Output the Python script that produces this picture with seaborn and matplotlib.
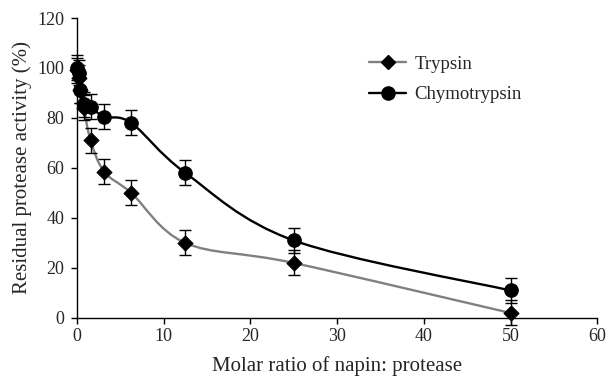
import matplotlib
matplotlib.use("Agg")
import matplotlib.pyplot as plt
import numpy as np
import pandas as pd
import seaborn as sns
from matplotlib.lines import Line2D
from matplotlib.patches import PathPatch
from matplotlib.path import Path

# molar ratio napin : protease
ratio = [0, 0.195, 0.39, 0.78, 1.56, 3.125, 6.25, 12.5, 25, 50]
trypsin = [99, 96, 91, 84, 71, 58.5, 50, 30, 22, 2]
chymotrypsin = [100, 98, 91, 85.5, 84.5, 80.5, 78, 58, 31, 11]
trypsin_err = [5, 5, 5, 5, 5, 5, 5, 5, 5, 5]
chymo_err = [5, 5, 5, 5, 5, 5, 5, 5, 5, 5]


def smooth_path(xs, ys):
    # Excel-like smoothed line: cubic Bezier through the points (Catmull-Rom)
    pts = np.column_stack([xs, ys]).astype(float)
    ext = np.vstack([pts[0], pts, pts[-1]])
    verts = [pts[0]]
    codes = [Path.MOVETO]
    for i in range(len(pts) - 1):
        p0, p1, p2, p3 = ext[i], ext[i + 1], ext[i + 2], ext[i + 3]
        verts += [p1 + (p2 - p0) / 6, p2 - (p3 - p1) / 6, p2]
        codes += [Path.CURVE4] * 3
    return Path(verts, codes)


sns.set_style("ticks")
plt.rcParams["font.family"] = ["Liberation Serif", "DejaVu Serif"]

df_t = pd.DataFrame({"ratio": ratio, "activity": trypsin})
df_c = pd.DataFrame({"ratio": ratio, "activity": chymotrypsin})

fig = plt.figure(figsize=(6.07, 3.79), dpi=100)
ax = fig.add_axes([0.127, 0.161, 0.857, 0.7915])

ax.add_patch(PathPatch(smooth_path(ratio, trypsin), facecolor="none",
                       edgecolor="#808080", lw=1.7, zorder=2))
ax.add_patch(PathPatch(smooth_path(ratio, chymotrypsin), facecolor="none",
                       edgecolor="black", lw=1.7, zorder=2))

ax.errorbar(ratio, trypsin, yerr=trypsin_err, fmt="none", ecolor="black",
            elinewidth=1, capsize=4, capthick=1, zorder=3, clip_on=False)
ax.errorbar(ratio, chymotrypsin, yerr=chymo_err, fmt="none", ecolor="black",
            elinewidth=1, capsize=4, capthick=1, zorder=3, clip_on=False)

sns.scatterplot(data=df_t, x="ratio", y="activity", marker="D", s=60,
                color="black", edgecolor="black", ax=ax, zorder=4, clip_on=False)
sns.scatterplot(data=df_c, x="ratio", y="activity", marker="o", s=95,
                color="black", edgecolor="black", ax=ax, zorder=5, clip_on=False)

ax.set_xlim(0, 60)
ax.set_ylim(0, 120)
ax.set_xticks(range(0, 61, 10))
ax.set_yticks(range(0, 121, 20))
ax.tick_params(labelsize=13, length=4, width=1, color="black")
ax.tick_params(axis="y", pad=5)
ax.tick_params(axis="x", pad=3)
for s in ["left", "bottom"]:
    ax.spines[s].set_color("black")
    ax.spines[s].set_linewidth(1)
sns.despine(ax=ax)

ax.set_xlabel("Molar ratio of napin: protease", fontsize=15, labelpad=8)
ax.set_ylabel("Residual protease activity (%)", fontsize=15, labelpad=4)

handles = [
    Line2D([], [], color="#808080", lw=1.7, marker="D", ms=7.5,
           markerfacecolor="black", markeredgecolor="black"),
    Line2D([], [], color="black", lw=1.7, marker="o", ms=9.5,
           markerfacecolor="black", markeredgecolor="black"),
]
ax.legend(handles, ["Trypsin", "Chymotrypsin"], loc="upper left",
          bbox_to_anchor=(0.562, 0.875), frameon=False, fontsize=13.5,
          handlelength=1.95, handletextpad=0.45, labelspacing=0.72,
          borderpad=0, borderaxespad=0)

fig.savefig("out.png", dpi=100)
